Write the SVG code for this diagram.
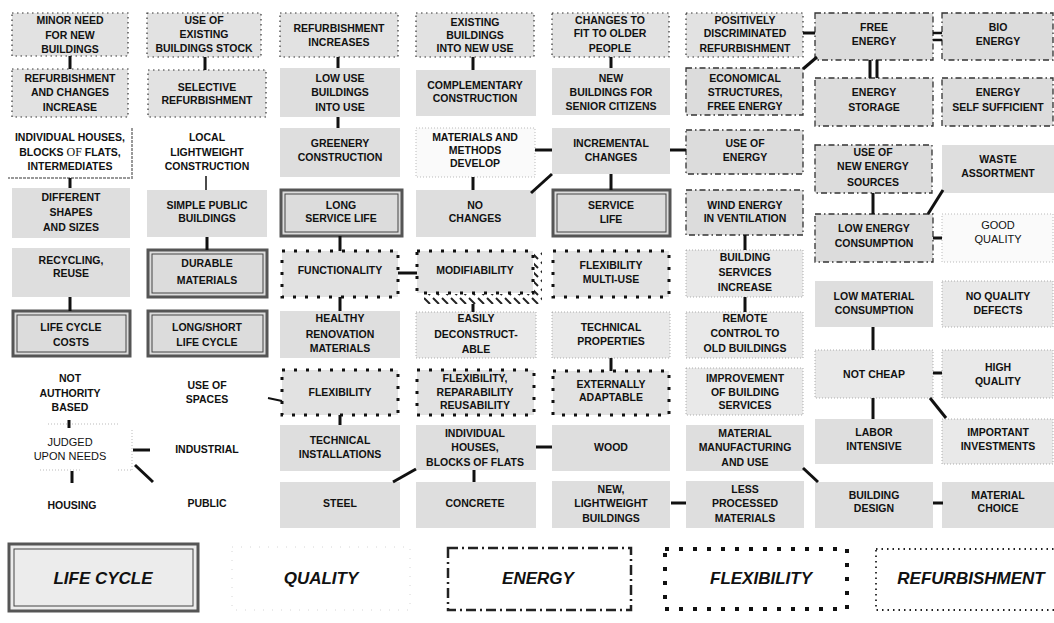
<svg xmlns="http://www.w3.org/2000/svg" width="1054" height="623" viewBox="0 0 1054 623">
<defs>
<pattern id="hatch" patternUnits="userSpaceOnUse" width="9" height="9">
<line x1="1" y1="1" x2="7" y2="7" stroke="#222" stroke-width="2"/>
</pattern>
</defs>
<style>
.t{font-family:"Liberation Sans",Arial,sans-serif;font-weight:bold;font-size:10.5px;text-anchor:middle;fill:#111}
.tn{font-family:"Liberation Sans",Arial,sans-serif;font-weight:normal;font-size:11px;text-anchor:middle;fill:#111}
.lg{font-family:"Liberation Sans",Arial,sans-serif;font-weight:bold;font-style:italic;font-size:17px;text-anchor:middle;fill:#111}
.g{fill:#dedede;stroke:none}
.rf{fill:#e2e2e2;stroke:#333;stroke-width:1.2;stroke-dasharray:1.5 3.5}
.en{fill:#dcdcdc;stroke:#333;stroke-width:1.3;stroke-dasharray:6 3 1.5 3}
.fx{fill:#e2e2e2;stroke:#111;stroke-width:3;stroke-dasharray:3 9}
.q{fill:#e9e9e9;stroke:#999;stroke-width:0.8;stroke-dasharray:1 2}
.qw{fill:#fafafa;stroke:#aaa;stroke-width:0.8;stroke-dasharray:1 2}
.lco{fill:#dcdcdc;stroke:#555;stroke-width:3}
.lci{fill:none;stroke:#444;stroke-width:1}
.w{fill:#fff;stroke:none}
#connectors line{stroke:#111;stroke-width:3;stroke-linecap:butt}
</style>
<rect width="1054" height="623" fill="#fff"/>

<!-- Column 1 -->
<g id="n1"><rect class="rf" x="12" y="13" width="116" height="43"/><text class="t"><tspan x="70" y="24">MINOR NEED</tspan><tspan x="70" y="39">FOR NEW</tspan><tspan x="70" y="53">BUILDINGS</tspan></text></g>
<g id="n2"><rect class="rf" x="12" y="69" width="116" height="48"/><text class="t"><tspan x="70" y="82">REFURBISHMENT</tspan><tspan x="70" y="96">AND CHANGES</tspan><tspan x="70" y="111">INCREASE</tspan></text></g>
<g id="n3"><rect class="w" x="8" y="123" width="124" height="55"/><path d="M132 128 V178 H8" fill="none" stroke="#999" stroke-width="2" stroke-dasharray="3 1"/><text class="t"><tspan x="70" y="141">INDIVIDUAL HOUSES,</tspan><tspan x="70" y="156">BLOCKS <tspan style="font-family:'Liberation Serif',serif;font-weight:normal;font-size:12px">OF</tspan> FLATS,</tspan><tspan x="70" y="170">INTERMEDIATES</tspan></text></g>
<g id="n4"><rect class="g" x="12" y="188" width="118" height="50"/><text class="t"><tspan x="71" y="201">DIFFERENT</tspan><tspan x="71" y="216">SHAPES</tspan><tspan x="71" y="231">AND SIZES</tspan></text></g>
<g id="n5"><rect class="g" x="12" y="248" width="118" height="49"/><text class="t"><tspan x="71" y="264">RECYCLING,</tspan><tspan x="71" y="277">REUSE</tspan></text></g>
<g id="n6"><rect class="lco" x="13" y="311" width="117" height="45"/><rect class="lci" x="17" y="315" width="109" height="37"/><text class="t"><tspan x="71" y="331">LIFE CYCLE</tspan><tspan x="71" y="346">COSTS</tspan></text></g>
<g id="n7"><text class="t"><tspan x="70" y="382">NOT</tspan><tspan x="70" y="397">AUTHORITY</tspan><tspan x="70" y="411">BASED</tspan></text></g>
<g id="n8"><path d="M48 424 H118 M132 430 V470 M118 470 H132 M40 470 H80" fill="none" stroke="#aaa" stroke-width="0.8" stroke-dasharray="1 2"/><text class="tn"><tspan x="70" y="446">JUDGED</tspan><tspan x="70" y="460">UPON NEEDS</tspan></text></g>
<g id="n9"><text class="t" x="72" y="509">HOUSING</text></g>

<!-- Column 2 -->
<g id="n10"><rect class="rf" x="147" y="13" width="114" height="44"/><text class="t"><tspan x="204" y="24">USE OF</tspan><tspan x="204" y="38">EXISTING</tspan><tspan x="204" y="52">BUILDINGS STOCK</tspan></text></g>
<g id="n11"><rect class="rf" x="148" y="70" width="118" height="47"/><text class="t"><tspan x="207" y="91">SELECTIVE</tspan><tspan x="207" y="104">REFURBISHMENT</tspan></text></g>
<g id="n12"><text class="t"><tspan x="207" y="141">LOCAL</tspan><tspan x="207" y="156">LIGHTWEIGHT</tspan><tspan x="207" y="170">CONSTRUCTION</tspan></text></g>
<g id="n13"><rect class="g" x="147" y="190" width="120" height="47"/><text class="t"><tspan x="207" y="209">SIMPLE PUBLIC</tspan><tspan x="207" y="222">BUILDINGS</tspan></text></g>
<g id="n14"><rect class="lco" x="148" y="250" width="119" height="47"/><rect class="lci" x="152" y="254" width="111" height="39"/><text class="t"><tspan x="207" y="267">DURABLE</tspan><tspan x="207" y="284">MATERIALS</tspan></text></g>
<g id="n15"><rect class="lco" x="148" y="311" width="119" height="45"/><rect class="lci" x="152" y="315" width="111" height="37"/><text class="t"><tspan x="207" y="331">LONG/SHORT</tspan><tspan x="207" y="346">LIFE CYCLE</tspan></text></g>
<g id="n16"><text class="t"><tspan x="207" y="389">USE OF</tspan><tspan x="207" y="403">SPACES</tspan></text></g>
<g id="n17"><text class="t" x="207" y="453">INDUSTRIAL</text></g>
<g id="n18"><text class="t" x="207" y="507">PUBLIC</text></g>

<!-- Column 3 -->
<g id="n19"><rect class="rf" x="280" y="13" width="118" height="44"/><text class="t"><tspan x="339" y="32">REFURBISHMENT</tspan><tspan x="339" y="46">INCREASES</tspan></text></g>
<g id="n20"><rect class="g" x="280" y="68" width="120" height="49"/><text class="t"><tspan x="340" y="82">LOW USE</tspan><tspan x="340" y="96">BUILDINGS</tspan><tspan x="340" y="111">INTO USE</tspan></text></g>
<g id="n21"><rect class="g" x="280" y="128" width="120" height="49"/><text class="t"><tspan x="340" y="147">GREENERY</tspan><tspan x="340" y="161">CONSTRUCTION</tspan></text></g>
<g id="n22"><rect class="lco" x="281" y="190" width="121" height="46"/><rect class="lci" x="285" y="194" width="113" height="38"/><text class="t"><tspan x="341" y="209">LONG</tspan><tspan x="341" y="222">SERVICE LIFE</tspan></text></g>
<g id="n23"><rect class="fx" x="282" y="251" width="116" height="46"/><text class="t" x="340" y="274">FUNCTIONALITY</text></g>
<g id="n24"><rect class="g" x="280" y="311" width="120" height="47"/><text class="t"><tspan x="340" y="322">HEALTHY</tspan><tspan x="340" y="338">RENOVATION</tspan><tspan x="340" y="352">MATERIALS</tspan></text></g>
<g id="n25"><rect class="fx" x="282" y="370" width="116" height="45"/><text class="t" x="340" y="396">FLEXIBILITY</text></g>
<g id="n26"><rect class="g" x="280" y="425" width="120" height="46"/><text class="t"><tspan x="340" y="444">TECHNICAL</tspan><tspan x="340" y="458">INSTALLATIONS</tspan></text></g>
<g id="n27"><rect class="g" x="280" y="482" width="120" height="46"/><text class="t" x="340" y="507">STEEL</text></g>

<!-- Column 4 -->
<g id="n28"><rect class="rf" x="416" y="13" width="118" height="44"/><text class="t"><tspan x="475" y="26">EXISTING</tspan><tspan x="475" y="39">BUILDINGS</tspan><tspan x="475" y="52">INTO NEW USE</tspan></text></g>
<g id="n29"><rect class="g" x="416" y="70" width="120" height="46"/><text class="t"><tspan x="475" y="89">COMPLEMENTARY</tspan><tspan x="475" y="102">CONSTRUCTION</tspan></text></g>
<g id="n30"><rect class="qw" x="416" y="128" width="119" height="49"/><text class="t"><tspan x="475" y="141">MATERIALS AND</tspan><tspan x="475" y="154">METHODS</tspan><tspan x="475" y="167">DEVELOP</tspan></text></g>
<g id="n31"><rect class="g" x="416" y="190" width="120" height="47"/><text class="t"><tspan x="475" y="209">NO</tspan><tspan x="475" y="222">CHANGES</tspan></text></g>
<g id="n32"><path d="M534 252 H542 V304 H424 V294 H534 Z" fill="url(#hatch)"/><rect class="fx" x="417" y="251" width="116" height="42"/><text class="t" x="475" y="274">MODIFIABILITY</text></g>
<g id="n33"><rect class="q" x="416" y="312" width="120" height="46"/><text class="t"><tspan x="476" y="322">EASILY</tspan><tspan x="476" y="338">DECONSTRUCT-</tspan><tspan x="476" y="353">ABLE</tspan></text></g>
<g id="n34"><rect class="fx" x="417" y="370" width="117" height="45"/><text class="t"><tspan x="475" y="382">FLEXIBILITY,</tspan><tspan x="475" y="396">REPARABILITY</tspan><tspan x="475" y="409">REUSABILITY</tspan></text></g>
<g id="n35"><rect class="g" x="416" y="425" width="120" height="45"/><text class="t"><tspan x="475" y="437">INDIVIDUAL</tspan><tspan x="475" y="451">HOUSES,</tspan><tspan x="475" y="466">BLOCKS OF FLATS</tspan></text></g>
<g id="n36"><rect class="g" x="416" y="482" width="120" height="46"/><text class="t" x="475" y="507">CONCRETE</text></g>

<!-- Column 5 -->
<g id="n37"><rect class="rf" x="552" y="13" width="117" height="44"/><text class="t"><tspan x="610" y="24">CHANGES TO</tspan><tspan x="610" y="37">FIT TO OLDER</tspan><tspan x="610" y="52">PEOPLE</tspan></text></g>
<g id="n38"><rect class="g" x="552" y="68" width="118" height="47"/><text class="t"><tspan x="611" y="82">NEW</tspan><tspan x="611" y="96">BUILDINGS FOR</tspan><tspan x="611" y="110">SENIOR CITIZENS</tspan></text></g>
<g id="n39"><rect class="g" x="552" y="128" width="118" height="46"/><text class="t"><tspan x="611" y="147">INCREMENTAL</tspan><tspan x="611" y="161">CHANGES</tspan></text></g>
<g id="n40"><rect class="lco" x="553" y="190" width="117" height="46"/><rect class="lci" x="557" y="194" width="109" height="38"/><text class="t"><tspan x="611" y="209">SERVICE</tspan><tspan x="611" y="223">LIFE</tspan></text></g>
<g id="n41"><rect class="fx" x="553" y="251" width="116" height="46"/><text class="t"><tspan x="611" y="269">FLEXIBILITY</tspan><tspan x="611" y="283">MULTI-USE</tspan></text></g>
<g id="n42"><rect class="q" x="552" y="312" width="118" height="46"/><text class="t"><tspan x="611" y="331">TECHNICAL</tspan><tspan x="611" y="345">PROPERTIES</tspan></text></g>
<g id="n43"><rect class="fx" x="553" y="371" width="116" height="44"/><text class="t"><tspan x="611" y="388">EXTERNALLY</tspan><tspan x="611" y="401">ADAPTABLE</tspan></text></g>
<g id="n44"><rect class="g" x="552" y="425" width="118" height="46"/><text class="t" x="611" y="451">WOOD</text></g>
<g id="n45"><rect class="g" x="552" y="481" width="118" height="47"/><text class="t"><tspan x="611" y="493">NEW,</tspan><tspan x="611" y="507">LIGHTWEIGHT</tspan><tspan x="611" y="522">BUILDINGS</tspan></text></g>

<!-- Column 6 -->
<g id="n46"><rect class="rf" x="686" y="13" width="117" height="44"/><text class="t"><tspan x="745" y="24">POSITIVELY</tspan><tspan x="745" y="37">DISCRIMINATED</tspan><tspan x="745" y="52">REFURBISHMENT</tspan></text></g>
<g id="n47"><rect class="en" x="686" y="68" width="117" height="47"/><text class="t"><tspan x="745" y="82">ECONOMICAL</tspan><tspan x="745" y="96">STRUCTURES,</tspan><tspan x="745" y="110">FREE ENERGY</tspan></text></g>
<g id="n48"><rect class="en" x="686" y="130" width="117" height="44"/><text class="t"><tspan x="745" y="147">USE OF</tspan><tspan x="745" y="161">ENERGY</tspan></text></g>
<g id="n49"><rect class="en" x="686" y="190" width="117" height="45"/><text class="t"><tspan x="745" y="209">WIND ENERGY</tspan><tspan x="745" y="222">IN VENTILATION</tspan></text></g>
<g id="n50"><rect class="q" x="686" y="250" width="117" height="47"/><text class="t"><tspan x="745" y="261">BUILDING</tspan><tspan x="745" y="276">SERVICES</tspan><tspan x="745" y="291">INCREASE</tspan></text></g>
<g id="n51"><rect class="q" x="686" y="312" width="117" height="46"/><text class="t"><tspan x="745" y="322">REMOTE</tspan><tspan x="745" y="337">CONTROL TO</tspan><tspan x="745" y="352">OLD BUILDINGS</tspan></text></g>
<g id="n52"><rect class="q" x="686" y="368" width="117" height="47"/><text class="t"><tspan x="745" y="382">IMPROVEMENT</tspan><tspan x="745" y="396">OF BUILDING</tspan><tspan x="745" y="409">SERVICES</tspan></text></g>
<g id="n53"><rect class="g" x="686" y="425" width="118" height="46"/><text class="t"><tspan x="745" y="437">MATERIAL</tspan><tspan x="745" y="451">MANUFACTURING</tspan><tspan x="745" y="466">AND USE</tspan></text></g>
<g id="n54"><rect class="g" x="686" y="481" width="118" height="47"/><text class="t"><tspan x="745" y="493">LESS</tspan><tspan x="745" y="507">PROCESSED</tspan><tspan x="745" y="522">MATERIALS</tspan></text></g>

<!-- Column 7 -->
<g id="n55"><rect class="en" x="815" y="13" width="118" height="47"/><text class="t"><tspan x="874" y="31">FREE</tspan><tspan x="874" y="45">ENERGY</tspan></text></g>
<g id="n56"><rect class="en" x="815" y="78" width="118" height="48"/><text class="t"><tspan x="874" y="96">ENERGY</tspan><tspan x="874" y="111">STORAGE</tspan></text></g>
<g id="n57"><rect class="en" x="815" y="145" width="117" height="48"/><text class="t"><tspan x="873" y="156">USE OF</tspan><tspan x="873" y="170">NEW ENERGY</tspan><tspan x="873" y="186">SOURCES</tspan></text></g>
<g id="n58"><rect class="en" x="815" y="214" width="118" height="48"/><text class="t"><tspan x="874" y="232">LOW ENERGY</tspan><tspan x="874" y="247">CONSUMPTION</tspan></text></g>
<g id="n59"><rect class="g" x="815" y="281" width="118" height="46"/><text class="t"><tspan x="874" y="300">LOW MATERIAL</tspan><tspan x="874" y="314">CONSUMPTION</tspan></text></g>
<g id="n60"><rect class="q" x="815" y="350" width="118" height="48"/><text class="t" x="874" y="378">NOT CHEAP</text></g>
<g id="n61"><rect class="g" x="815" y="419" width="118" height="45"/><text class="t"><tspan x="874" y="436">LABOR</tspan><tspan x="874" y="450">INTENSIVE</tspan></text></g>
<g id="n62"><rect class="g" x="815" y="482" width="118" height="46"/><text class="t"><tspan x="874" y="499">BUILDING</tspan><tspan x="874" y="512">DESIGN</tspan></text></g>

<!-- Column 8 -->
<g id="n63"><rect class="en" x="942" y="13" width="111" height="47"/><text class="t"><tspan x="998" y="31">BIO</tspan><tspan x="998" y="45">ENERGY</tspan></text></g>
<g id="n64"><rect class="en" x="942" y="78" width="111" height="48"/><text class="t"><tspan x="998" y="96">ENERGY</tspan><tspan x="998" y="111">SELF SUFFICIENT</tspan></text></g>
<g id="n65"><rect class="g" x="942" y="145" width="112" height="48"/><text class="t"><tspan x="998" y="163">WASTE</tspan><tspan x="998" y="177">ASSORTMENT</tspan></text></g>
<g id="n66"><rect class="qw" x="942" y="214" width="111" height="48"/><text class="tn"><tspan x="998" y="229">GOOD</tspan><tspan x="998" y="243">QUALITY</tspan></text></g>
<g id="n67"><rect class="q" x="942" y="281" width="111" height="46"/><text class="t"><tspan x="998" y="300">NO QUALITY</tspan><tspan x="998" y="314">DEFECTS</tspan></text></g>
<g id="n68"><rect class="q" x="942" y="350" width="111" height="48"/><text class="t"><tspan x="998" y="371">HIGH</tspan><tspan x="998" y="385">QUALITY</tspan></text></g>
<g id="n69"><rect class="q" x="942" y="419" width="111" height="45"/><text class="t"><tspan x="998" y="436">IMPORTANT</tspan><tspan x="998" y="450">INVESTMENTS</tspan></text></g>
<g id="n70"><rect class="g" x="942" y="482" width="112" height="46"/><text class="t"><tspan x="998" y="499">MATERIAL</tspan><tspan x="998" y="512">CHOICE</tspan></text></g>

<g id="connectors">
<line x1="70" y1="56" x2="70" y2="69"/>
<line x1="205" y1="57" x2="205" y2="70"/>
<line x1="70" y1="178" x2="70" y2="188"/>
<line x1="206" y1="176" x2="206" y2="190" style="stroke-width:1.5"/>
<line x1="207" y1="237" x2="207" y2="250"/>
<line x1="70" y1="297" x2="70" y2="311"/>
<line x1="338" y1="57" x2="338" y2="68"/>
<line x1="338" y1="117" x2="338" y2="128"/>
<line x1="473" y1="57" x2="473" y2="70"/>
<line x1="473" y1="177" x2="473" y2="190"/>
<line x1="535" y1="150" x2="552" y2="150"/>
<line x1="531" y1="193" x2="552" y2="174"/>
<line x1="611" y1="57" x2="611" y2="68"/>
<line x1="611" y1="174" x2="611" y2="190"/>
<line x1="670" y1="150" x2="686" y2="150"/>
<line x1="803" y1="33" x2="815" y2="33"/>
<line x1="803" y1="69" x2="817" y2="57"/>
<line x1="933" y1="33" x2="942" y2="33" style="stroke-width:2.5"/>
<line x1="933" y1="40" x2="942" y2="40" style="stroke-width:2.5"/>
<line x1="870" y1="60" x2="870" y2="78"/>
<line x1="877" y1="60" x2="877" y2="78"/>
<line x1="873" y1="193" x2="873" y2="214"/>
<line x1="943" y1="190" x2="928" y2="214"/>
<line x1="933" y1="238" x2="942" y2="238"/>
<line x1="340" y1="236" x2="340" y2="251"/>
<line x1="398" y1="273" x2="417" y2="273"/>
<line x1="340" y1="297" x2="340" y2="311"/>
<line x1="473" y1="304" x2="473" y2="312"/>
<line x1="268" y1="398" x2="282" y2="401" style="stroke-width:2"/>
<line x1="611" y1="358" x2="611" y2="371"/>
<line x1="745" y1="235" x2="745" y2="250"/>
<line x1="745" y1="297" x2="745" y2="312"/>
<line x1="340" y1="415" x2="340" y2="425"/>
<line x1="474" y1="470" x2="474" y2="482"/>
<line x1="536" y1="447" x2="552" y2="447"/>
<line x1="393" y1="482" x2="416" y2="469"/>
<line x1="671" y1="503" x2="686" y2="503"/>
<line x1="803" y1="468" x2="818" y2="482"/>
<line x1="933" y1="503" x2="943" y2="503"/>
<line x1="873" y1="327" x2="873" y2="350"/>
<line x1="933" y1="373" x2="942" y2="373"/>
<line x1="873" y1="398" x2="873" y2="419"/>
<line x1="930" y1="398" x2="946" y2="418"/>
<line x1="69" y1="420" x2="69" y2="428"/>
<line x1="72" y1="471" x2="72" y2="483"/>
<line x1="133" y1="450" x2="150" y2="450"/>
<line x1="135" y1="465" x2="153" y2="482"/>
</g>

<!-- Legend -->
<g id="legend-lifecycle"><rect x="9" y="544" width="189" height="67" fill="#ececec" stroke="#555" stroke-width="3"/><rect class="lci" x="14" y="549" width="179" height="57"/><text class="lg" x="103" y="584">LIFE CYCLE</text></g>
<g id="legend-quality"><rect x="232" y="547" width="178" height="63" fill="none" stroke="#ccc" stroke-width="0.8" stroke-dasharray="1 8"/><text class="lg" x="321" y="584">QUALITY</text></g>
<g id="legend-energy"><rect x="448" y="548" width="183" height="62" fill="none" stroke="#222" stroke-width="2.5" stroke-dasharray="10 4 2 4"/><text class="lg" x="538" y="584">ENERGY</text></g>
<g id="legend-flexibility"><rect x="665" y="549" width="182" height="60" fill="none" stroke="#111" stroke-width="4" stroke-dasharray="4 10"/><text class="lg" x="761" y="584">FLEXIBILITY</text></g>
<g id="legend-refurbishment"><rect x="876" y="549" width="185" height="61" fill="none" stroke="#222" stroke-width="1.8" stroke-dasharray="1.5 4"/><text class="lg" x="971" y="584">REFURBISHMENT</text></g>
</svg>
